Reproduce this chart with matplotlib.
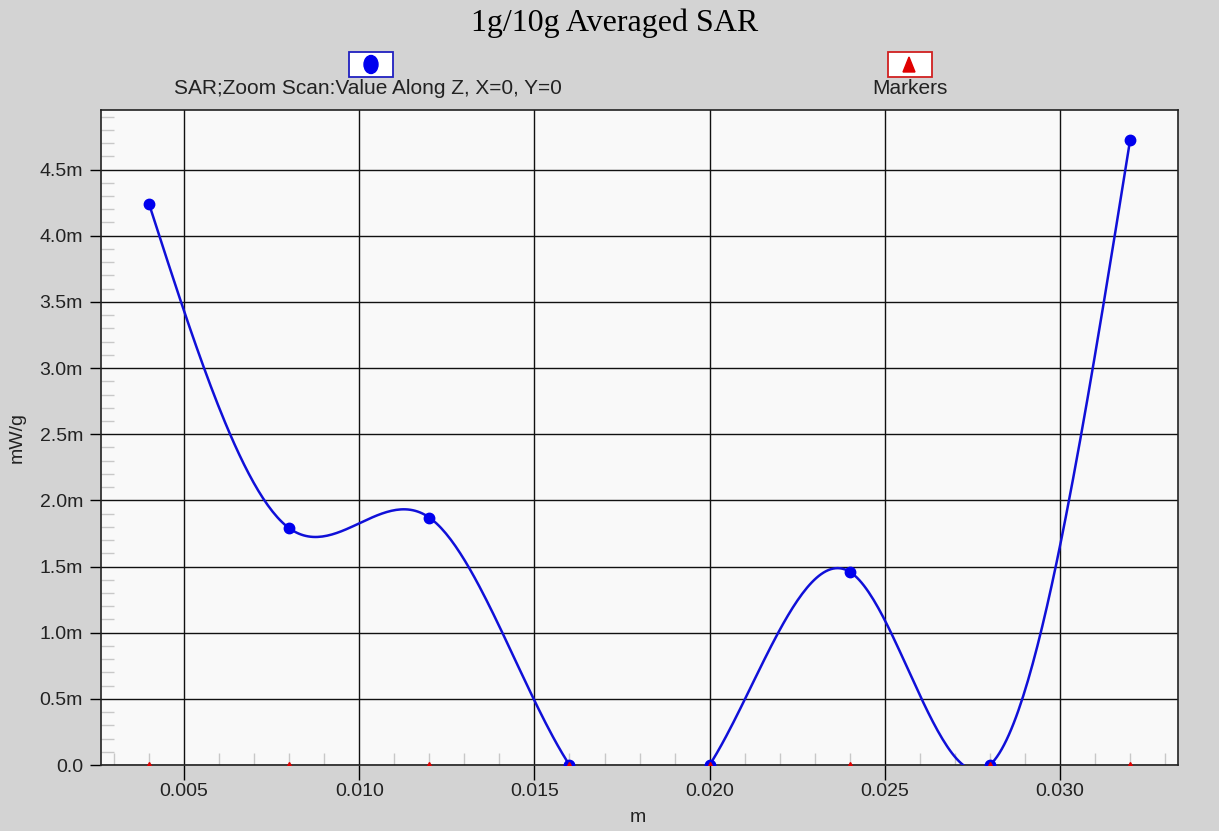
import numpy as np
import matplotlib
matplotlib.use('Agg')
import matplotlib.pyplot as plt
from matplotlib.ticker import MultipleLocator, FuncFormatter
from matplotlib.patches import Rectangle, Ellipse, Polygon

plt.rcParams['font.family'] = ['Liberation Sans', 'DejaVu Sans']

# Data (SAR values in milli-units of mW/g):
z_positions_m = [0.004, 0.008, 0.012, 0.016, 0.020, 0.024, 0.028, 0.032]
sar_values_m = [4.24, 1.79, 1.87, 0.0, 0.0, 1.46, 0.0, 4.72]
marker_positions_m = [0.004, 0.008, 0.012, 0.016, 0.020, 0.024, 0.028, 0.032]
marker_values = [0.0, 0.0, 0.0, 0.0, 0.0, 0.0, 0.0, 0.0]

title_string = '1g/10g Averaged SAR'
series_label = 'SAR;Zoom Scan:Value Along Z, X=0, Y=0'
markers_label = 'Markers'

bg_grey = '#d3d3d3'
line_blue = '#1010d8'
point_blue = '#0000ee'
marker_red = '#e00000'


def natural_spline(x, y, n_per_seg=60):
    # Natural cubic spline used only to draw the smooth connecting line
    x = np.asarray(x, float)
    y = np.asarray(y, float)
    n = len(x)
    h = np.diff(x)
    a = np.zeros((n, n))
    b = np.zeros(n)
    a[0, 0] = a[-1, -1] = 1
    for i in range(1, n - 1):
        a[i, i - 1] = h[i - 1]
        a[i, i] = 2 * (h[i - 1] + h[i])
        a[i, i + 1] = h[i]
        b[i] = 6 * ((y[i + 1] - y[i]) / h[i] - (y[i] - y[i - 1]) / h[i - 1])
    m = np.linalg.solve(a, b)
    xs, ys = [], []
    for i in range(n - 1):
        t = np.linspace(x[i], x[i + 1], n_per_seg)
        d0 = x[i + 1] - t
        d1 = t - x[i]
        s = (m[i] * d0**3 / (6 * h[i]) + m[i + 1] * d1**3 / (6 * h[i])
             + (y[i] / h[i] - m[i] * h[i] / 6) * d0
             + (y[i + 1] / h[i] - m[i + 1] * h[i] / 6) * d1)
        xs.append(t)
        ys.append(s)
    return np.concatenate(xs), np.concatenate(ys)


fig = plt.figure(figsize=(12.19, 8.31), dpi=100, facecolor=bg_grey)
ax = fig.add_axes([0.0829, 0.0794, 0.8835, 0.7882])
ax.set_facecolor('#f9f9f9')

# Smooth curve + measured points
curve_x, curve_y = natural_spline(z_positions_m, sar_values_m)
ax.plot(curve_x, curve_y, color=line_blue, lw=1.8, zorder=3)
ax.plot(z_positions_m, sar_values_m, 'o', color=point_blue, ms=7.5,
        zorder=4)
ax.plot(marker_positions_m, marker_values, '^', color=marker_red, ms=4,
        zorder=5)

ax.set_xlim(0.00263, 0.03337)
ax.set_ylim(0, 4.95)

# Ticks
ax.xaxis.set_major_locator(MultipleLocator(0.005))
ax.xaxis.set_minor_locator(MultipleLocator(0.001))
ax.yaxis.set_major_locator(MultipleLocator(0.5))
ax.yaxis.set_minor_locator(MultipleLocator(0.1))
ax.xaxis.set_major_formatter(FuncFormatter(lambda v, p: f'{v:.3f}'))
ax.yaxis.set_major_formatter(
    FuncFormatter(lambda v, p: '0.0' if abs(v) < 1e-9 else f'{v:.1f}m'))

ax.tick_params(axis='x', which='major', direction='out', length=11,
               width=1, color='black', labelsize=14, pad=2,
               labelcolor='#222222')
ax.tick_params(axis='y', which='major', direction='out', length=8,
               width=1, color='black', labelsize=14, pad=5,
               labelcolor='#222222')
ax.tick_params(which='minor', direction='in', length=9, width=1,
               color='#c8c8c8')
ax.grid(True, which='major', color='#111111', lw=1)
ax.set_axisbelow(True)

for spine in ax.spines.values():
    spine.set_color('#222222')
    spine.set_linewidth(1.2)

# Title and axis labels
fig.text(0.504, 0.972, title_string, ha='center', va='center',
         fontsize=23, family='Liberation Serif')
fig.text(0.5235, 0.016, 'm', ha='center', va='center', fontsize=14,
         color='#222222')
fig.text(0.014, 0.473, 'mW/g', ha='center', va='center', fontsize=14,
         rotation=90, color='#222222')

# Legend boxes drawn in figure pixel coordinates
def legend_box(x0_px, y0_px, edge):
    fw, fh = 1219, 831
    fig.patches.append(Rectangle((x0_px / fw, 1 - (y0_px + 25) / fh),
                                 44 / fw, 25 / fh, transform=fig.transFigure,
                                 facecolor='white', edgecolor=edge, lw=1.3))


legend_box(349, 52, '#2020c0')
fig.patches.append(Ellipse((371 / 1219, 1 - 64.5 / 831), 14 / 1219,
                           18 / 831, transform=fig.transFigure,
                           color=point_blue))
legend_box(888, 52, '#d02020')
fig.patches.append(Polygon([(903 / 1219, 1 - 72 / 831),
                            (915 / 1219, 1 - 72 / 831),
                            (909 / 1219, 1 - 57 / 831)],
                           transform=fig.transFigure, color=marker_red))
fig.text(368 / 1219, 1 - 89 / 831, series_label, ha='center', va='center',
         fontsize=15, color='#222222')
fig.text(910 / 1219, 1 - 89 / 831, markers_label, ha='center', va='center',
         fontsize=15, color='#222222')

fig.savefig('out.png', dpi=100, facecolor=bg_grey)
